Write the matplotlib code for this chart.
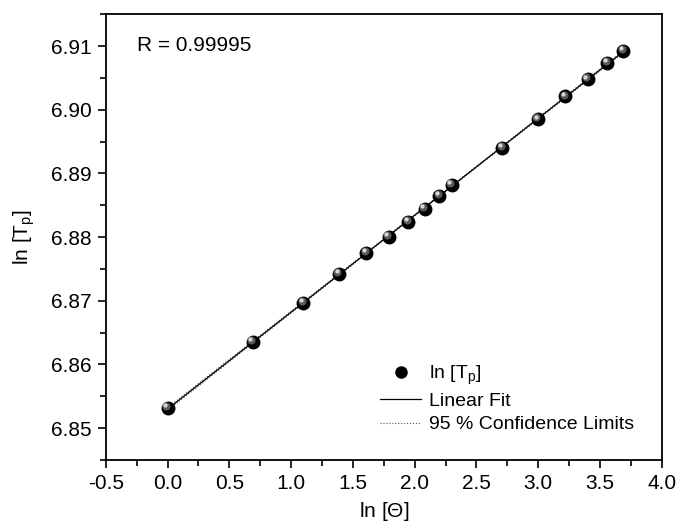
import numpy as np
import matplotlib
matplotlib.use("Agg")
import matplotlib.pyplot as plt
from matplotlib import transforms
from matplotlib.lines import Line2D

plt.rcParams['font.family'] = ['Liberation Sans', 'DejaVu Sans']
plt.rcParams['mathtext.fontset'] = 'custom'
plt.rcParams['mathtext.rm'] = 'Liberation Sans'
plt.rcParams['mathtext.it'] = 'Liberation Sans'

# data
ln_theta = [0.0, 0.69, 1.10, 1.39, 1.61, 1.79, 1.95, 2.08, 2.20, 2.30,
            2.71, 3.00, 3.22, 3.40, 3.56, 3.69]
ln_tp = [6.8532, 6.8636, 6.8697, 6.8742, 6.8775, 6.8800, 6.8824, 6.8844,
         6.8865, 6.8882, 6.8940, 6.8985, 6.9021, 6.9048, 6.9074, 6.9092]
r_text = "R = 0.99995"

x = np.array(ln_theta)
y = np.array(ln_tp)

# linear fit + 95% confidence band
p = np.polyfit(x, y, 1)
xf = np.linspace(x.min(), x.max(), 200)
yf = np.polyval(p, xf)
n = len(x)
res = y - np.polyval(p, x)
s = np.sqrt(np.sum(res**2) / (n - 2))
se = s * np.sqrt(1.0/n + (xf - x.mean())**2 / np.sum((x - x.mean())**2))
ci = 2.145 * se

fig = plt.figure(figsize=(6.78, 5.26), dpi=100)
ax = fig.add_axes([0.156, 0.1255, 0.820, 0.8475])

ax.plot(xf, yf + ci, ls=":", color="#555555", lw=0.8)
ax.plot(xf, yf - ci, ls=":", color="#555555", lw=0.8)
ax.plot(xf, yf, color="black", lw=0.9)

# shaded "ball" markers
ax.plot(x, y, ls="none", marker="o", ms=9, color="black", zorder=3)
hl = transforms.offset_copy(ax.transData, fig=fig, x=-1.3, y=1.3, units="points")
ax.plot(x, y, ls="none", marker="o", ms=4.8, color="#5a5a5a", transform=hl, zorder=4)
hl2 = transforms.offset_copy(ax.transData, fig=fig, x=-1.9, y=1.9, units="points")
ax.plot(x, y, ls="none", marker="o", ms=2.0, color="#d8d8d8", transform=hl2, zorder=5)

ax.set_xlim(-0.5, 4.0)
ax.set_ylim(6.845, 6.915)
ax.set_xticks(np.arange(-0.5, 4.01, 0.5))
ax.set_xticks(np.arange(-0.5, 4.01, 0.25), minor=True)
ax.set_yticks(np.arange(6.85, 6.9101, 0.01))
ax.set_yticks(np.arange(6.845, 6.9151, 0.005), minor=True)
ax.set_xticklabels(["%.1f" % v for v in np.arange(-0.5, 4.01, 0.5)])
ax.set_yticklabels(["%.2f" % v for v in np.arange(6.85, 6.9101, 0.01)])

ax.tick_params(which="major", direction="out", length=6, width=1.2, labelsize=15, pad=4)
ax.tick_params(which="minor", direction="out", length=4, width=1.2)
ax.tick_params(top=False, right=False)
for sp in ax.spines.values():
    sp.set_linewidth(1.3)

ax.set_xlabel(r"ln [$\Theta$]", fontsize=15, labelpad=5)
ax.set_ylabel(r"ln [T$_\mathrm{p}$]", fontsize=15, labelpad=10)

ax.text(0.056, 0.93, r_text, transform=ax.transAxes, fontsize=15, va="center")

handles = [
    Line2D([], [], ls="none", marker="o", ms=8, color="black"),
    Line2D([], [], color="black", lw=0.9),
    Line2D([], [], color="#555555", lw=0.8, ls=":"),
]
labels = [r"ln [T$_\mathrm{p}$]", "Linear Fit", "95 % Confidence Limits"]
ax.legend(handles, labels, loc="lower right", bbox_to_anchor=(0.964, 0.042),
          borderaxespad=0, frameon=False, fontsize=14, handlelength=2.1,
          handletextpad=0.4, labelspacing=0.3)

fig.savefig("out.png", dpi=100)
